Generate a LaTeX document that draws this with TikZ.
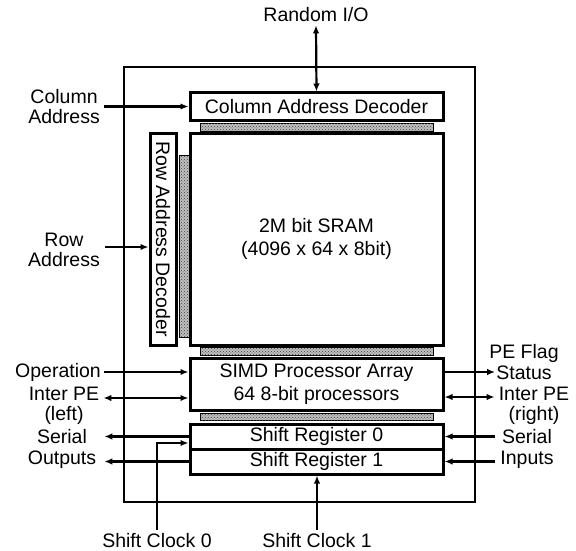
\documentclass[tikz,border=0pt]{standalone}
\usepackage{fontspec}
\setmainfont{Liberation Sans}
\usetikzlibrary{arrows.meta,patterns,calc}

\begin{document}
\begin{tikzpicture}[
  x=1pt, y=-1pt,
  block/.style={draw, line width=3pt, minimum width=253pt, inner sep=0pt,
                align=center, font=\fontsize{19.5}{23}\selectfont},
  strip/.style={draw, line width=0.9pt, fill=black!25,
                postaction={pattern=crosshatch dots, pattern color=black!75}, inner sep=0pt},
  frame/.style={draw, line width=2.8pt, inner sep=0pt},
  lbl/.style={font=\fontsize{19.5}{20.5}\selectfont, align=center, inner sep=0pt},
  sig/.style={-{Latex[length=8pt,width=6.5pt]}, line width=2.2pt},
  bus/.style={{Latex[length=8pt,width=6.5pt]}-{Latex[length=8pt,width=6.5pt]}, line width=2.2pt},
]
\useasboundingbox (0,0) rectangle (576,551);

%% chip outline
\node[frame, minimum width=351pt, minimum height=435pt] (chip) at (299.5,284.5) {};

%% memory blocks
\node[block, minimum height=27pt] (coldec) at (316.5,106.5) {Column Address Decoder};
\node[strip, minimum width=233pt, minimum height=8pt] (colbus) at (316.5,127) {};
\node[block, minimum height=212pt] (sram) at (316.5,239) {2M bit SRAM\\(4096 x 64 x 8bit)};
\node[block, minimum width=212pt, minimum height=26pt, rotate=-90] (rowdec) at (163,239) {Row Address Decoder};
\node[strip, minimum width=10pt, minimum height=182pt] (rowbus) at (184,246) {};

%% processor array and shift registers
\node[strip, minimum width=233pt, minimum height=8pt] (simdbus) at (316.5,351) {};
\node[block, minimum height=52pt] (simd) at (316.5,384) {SIMD Processor Array\\64 8-bit processors};
\node[strip, minimum width=233pt, minimum height=7pt] (srbus) at (316.5,416.5) {};
\node[block, minimum height=25pt] (sr0) at (316.5,436.5) {Shift Register 0};
\node[block, minimum height=25pt] (sr1) at (316.5,461.5) {Shift Register 1};

%% outside signals
\node[lbl] (rio) at (316,15) {Random I/O};
\node[lbl, anchor=east] (coladdr) at (100,106.5) {Column\\Address};
\node[lbl] (rowaddr) at (64,250) {Row\\Address};
\node[lbl, anchor=east] (op) at (101,372) {Operation};
\node[lbl] (ipel) at (64,406) {Inter PE\\(left)};
\node[lbl] (sout) at (62,449) {Serial\\Outputs};
\node[lbl] (clk0) at (157,541) {Shift Clock 0};
\node[lbl] (clk1) at (317,541) {Shift Clock 1};
\node[lbl] (flag) at (524,362) {PE Flag\\Status};
\node[lbl] (iper) at (534,406) {Inter PE\\(right)};
\node[lbl] (sin) at (527,449) {Serial\\Inputs};

%% connections
\draw[bus] ([yshift=-3pt]rio.south) -- (coldec.north);
\draw[sig] ([xshift=4pt]coladdr.east) -- (coladdr.east -| coldec.west);
\draw[sig] ($(rowaddr.east)+(5,-3)$) -- ($(rowaddr.east -| rowdec.south)+(0,-3)$);
\draw[sig] ([xshift=3pt]op.east) -- (op.east -| simd.west);
\draw[bus] ($(ipel.east)+(4,-8)$) -- ($(ipel.east -| simd.west)+(0,-8)$);
\draw[sig] (sr0.west) -- ($(sr0.west -| sout.east)+(8,0)$);
\draw[sig] (sr1.west) -- ($(sr1.west -| sout.east)+(8,0)$);
\draw[sig] ([yshift=4pt]clk0.north) |- ($(sr0.west)+(0,6.5)$);
\draw[sig] ([yshift=4pt]clk1.north) -- (clk1.north |- sr1.south);
\draw[sig] ($(simd.east)+(0,-12)$) -- ($(simd.east -| flag.west)+(6,-12)$);
\draw[bus] ($(simd.east)+(0,13)$) -- ($(simd.east -| iper.west)+(-4,13)$);
\draw[sig] ($(sr0.east -| sin.west)+(-5,0)$) -- (sr0.east);
\draw[sig] ($(sr1.east -| sin.west)+(-5,0)$) -- (sr1.east);

\end{tikzpicture}
\end{document}
